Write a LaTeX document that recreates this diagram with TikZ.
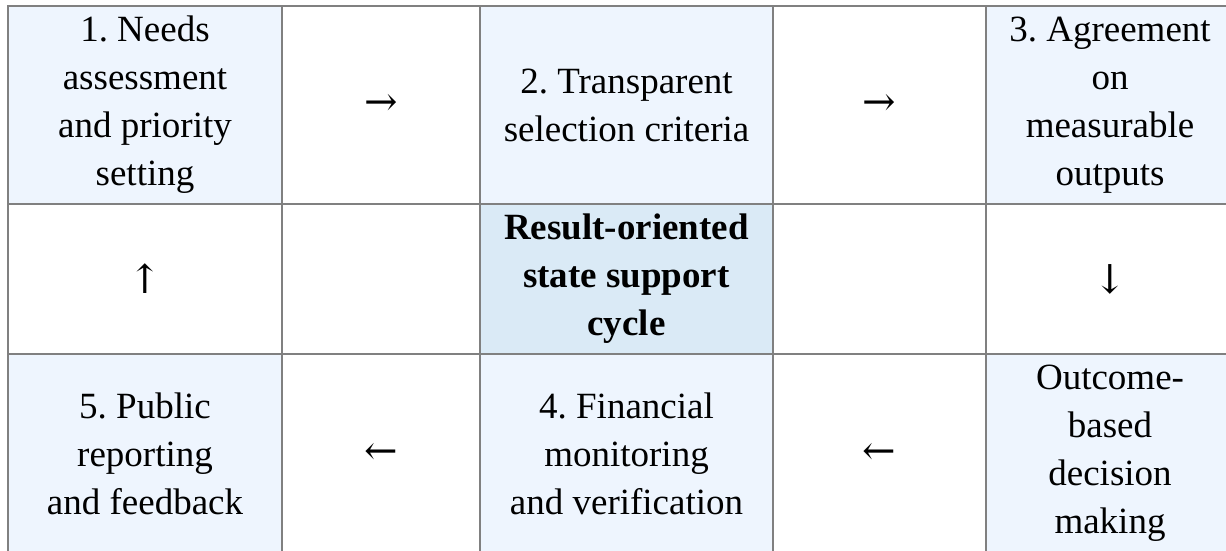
\documentclass[tikz,border=0pt]{standalone}
\usepackage{fontspec}
\setmainfont{Liberation Serif}
\newfontfamily\arrowfont{DejaVu Serif}
\frenchspacing
\definecolor{gridgray}{HTML}{808080}
\definecolor{palefill}{HTML}{EEF5FE}
\definecolor{hubfill}{HTML}{DAEAF6}
\begin{document}
\begin{tikzpicture}[x=1pt,y=-1pt]

\tikzset{cell/.style = {shape=rectangle,draw=gridgray,line width=1.5pt,inner sep=0pt,align=center,font=\fontsize{37}{48}\selectfont}}
\tikzset{stage/.style = {cell,fill=palefill}}
\tikzset{hub/.style = {cell,fill=hubfill,font=\fontsize{37}{48}\selectfont\bfseries}}
\tikzset{link/.style = {cell,font=\arrowfont\fontsize{40}{48}\selectfont}}
\useasboundingbox (0,0) rectangle (1226,550);
%top row
\node[stage, minimum width=274pt, minimum height=198pt] (needs) at (145,105) {1. Needs\\assessment\\and priority\\setting};
\node[link, minimum width=198pt, minimum height=198pt] (toCriteria) at (381,105) {→};
\node[stage, minimum width=293pt, minimum height=198pt] (criteria) at (626.5,105) {2. Transparent\\selection criteria};
\node[link, minimum width=213pt, minimum height=198pt] (toOutputs) at (879.5,105) {→};
\node[stage, minimum width=248pt, minimum height=198pt] (outputs) at (1110,105) {3. Agreement\\on\\measurable\\outputs};
%middle row
\node[link, minimum width=274pt, minimum height=150pt] (toNeeds) at (145,279) {↑};
\node[cell, minimum width=198pt, minimum height=150pt] (gapLeft) at (381,279) {};
\node[hub, minimum width=293pt, minimum height=150pt] (cycle) at (626.5,279) {Result-oriented\\state support\\cycle};
\node[cell, minimum width=213pt, minimum height=150pt] (gapRight) at (879.5,279) {};
\node[link, minimum width=248pt, minimum height=150pt] (toDecision) at (1110,279) {↓};
%bottom row
\node[stage, minimum width=274pt, minimum height=199pt] (reporting) at (145,453.5) {5. Public\\reporting\\and feedback};
\node[link, minimum width=198pt, minimum height=199pt] (toReporting) at (381,453.5) {←};
\node[stage, minimum width=293pt, minimum height=199pt] (monitoring) at (626.5,453.5) {4. Financial\\monitoring\\and verification};
\node[link, minimum width=213pt, minimum height=199pt] (toMonitoring) at (879.5,453.5) {←};
\node[stage, minimum width=248pt, minimum height=199pt] (decision) at (1110,453.5) {Outcome-\\based\\decision\\making};

\end{tikzpicture}
\end{document}
